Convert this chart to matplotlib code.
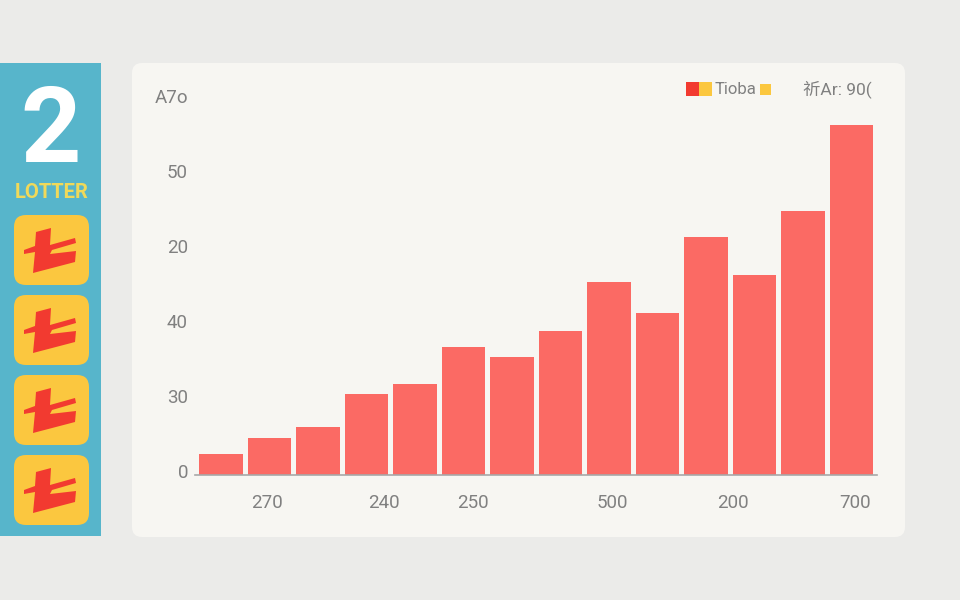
#!/usr/bin/env python
import matplotlib
matplotlib.use("Agg")
import matplotlib.pyplot as plt
from matplotlib.patches import FancyBboxPatch, Polygon, Rectangle
from matplotlib.transforms import ScaledTranslation

# bar heights, in units of the y axis (one gridstep = 10)
values = [2.8, 4.9, 6.4, 10.8, 12.1, 17.1, 15.7, 19.2, 25.7, 21.6, 31.7, 26.7, 35.2, 46.7]
y_ticks = [0, 10, 20, 30, 40, 50]
y_labels = ["0", "30", "40", "20", "50", "A7o"]
x_ticks = [0.95, 3.36, 5.2, 8.06, 10.56, 13.07]
x_labels = ["270", "240", "250", "500", "200", "700"]

BAR = "#fb6a64"
TEXT = "#808080"
YELLOW = "#fbc73f"
RED = "#f23a30"
BLUE = "#57b5cb"

plt.rcParams["font.family"] = ["Roboto", "Noto Sans CJK SC", "DejaVu Sans"]

fig = plt.figure(figsize=(9.6, 6), dpi=100, facecolor="#ebebe9")

# background layer in pixel coordinates: panel, sidebar, icons, legend
bg = fig.add_axes([0, 0, 1, 1])
bg.set_xlim(0, 960)
bg.set_ylim(600, 0)
bg.axis("off")


def rounded(ax, x, y, w, h, r, color):
    ax.add_patch(FancyBboxPatch((x + r, y + r), w - 2 * r, h - 2 * r,
                                boxstyle="round,pad=%d,rounding_size=%d" % (r, r),
                                fc=color, ec="none"))


rounded(bg, 132, 63, 773, 474, 10, "#f7f6f2")
bg.add_patch(Rectangle((0, 63), 101, 473, fc=BLUE, ec="none"))

bg.text(51, 122, "2", color="white", fontsize=76, fontweight="bold", ha="center", va="center_baseline")
bg.text(52, 192, "LOTTER", color="#f0d95a", fontsize=14.5, fontweight="bold", ha="center", va="center")

# the little lottery icon, outline relative to its top left corner
glyph = [(22, 17), (37, 13), (36, 30), (61, 23), (62, 28), (38, 35), (36, 39), (62, 36),
         (61, 47), (19, 58), (21, 37), (10, 39), (10, 35), (21, 31)]
for top in [215, 295, 375, 455]:
    rounded(bg, 14, top, 75, 70, 12, YELLOW)
    bg.add_patch(Polygon([(14 + gx, top + gy) for gx, gy in glyph], fc=RED, ec="none"))

# legend
bg.add_patch(Rectangle((686, 82), 13, 14, fc=RED, ec="none"))
bg.add_patch(Rectangle((699, 82), 13, 14, fc=YELLOW, ec="none"))
bg.add_patch(Rectangle((760, 84), 11, 11, fc=YELLOW, ec="none"))
bg.text(715, 90, "Tioba", color=TEXT, fontsize=12, ha="left", va="center")
bg.text(803, 89, "祈Ar: 90(", color=TEXT, fontsize=12.5, ha="left", va="center")

# the chart itself
ax = fig.add_axes([195 / 960, (600 - 475) / 600, 682 / 960, 375 / 600])
ax.patch.set_alpha(0)
ax.bar(range(len(values)), values, width=0.89, color=BAR)
ax.set_xlim(-0.536, 13.526)
ax.set_ylim(0, 50)
for side in ["top", "right", "left"]:
    ax.spines[side].set_visible(False)
ax.spines["bottom"].set_color("#a8a8a8")
ax.spines["bottom"].set_linewidth(1.2)

ax.set_xticks(x_ticks)
ax.set_xticklabels(x_labels, fontsize=13.5, color=TEXT)
ax.set_yticks(y_ticks)
ax.set_yticklabels(y_labels, fontsize=13.5, color=TEXT)
ax.tick_params(axis="both", length=0)
ax.tick_params(axis="x", pad=13.5)
ax.tick_params(axis="y", pad=5)

# y labels sit a little above their ticks in the original
shift = ScaledTranslation(0, 3 / 72, fig.dpi_scale_trans)
for lab in ax.get_yticklabels():
    lab.set_transform(lab.get_transform() + shift)

fig.savefig("out.png", dpi=100, facecolor=fig.get_facecolor())
